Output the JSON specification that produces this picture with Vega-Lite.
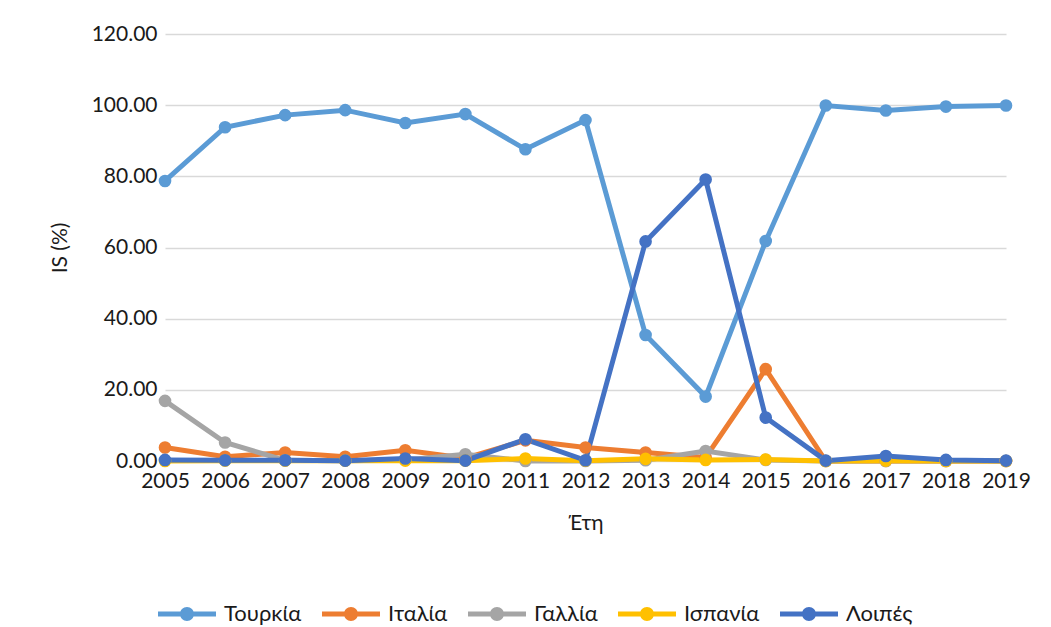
{
  "$schema": "https://vega.github.io/schema/vega-lite/v6.json",
  "autosize": "none",
  "width": 841,
  "height": 427,
  "padding": {"left": 165, "top": 34, "right": 45, "bottom": 166},
  "background": "white",
  "config": {
    "font": "Lato",
    "view": {"stroke": null},
    "axis": {"labelFont": "Lato", "titleFont": "Lato", "labelColor": "#1a1a1a", "titleColor": "#1a1a1a", "titleFontWeight": "normal"}
  },
  "data": {
    "values": [
      {"year": "2005", "country": "Τουρκία", "value": 78.7},
      {"year": "2006", "country": "Τουρκία", "value": 93.8},
      {"year": "2007", "country": "Τουρκία", "value": 97.2},
      {"year": "2008", "country": "Τουρκία", "value": 98.6},
      {"year": "2009", "country": "Τουρκία", "value": 95.0},
      {"year": "2010", "country": "Τουρκία", "value": 97.5},
      {"year": "2011", "country": "Τουρκία", "value": 87.6},
      {"year": "2012", "country": "Τουρκία", "value": 95.8},
      {"year": "2013", "country": "Τουρκία", "value": 35.4},
      {"year": "2014", "country": "Τουρκία", "value": 18.1},
      {"year": "2015", "country": "Τουρκία", "value": 61.8},
      {"year": "2016", "country": "Τουρκία", "value": 99.9},
      {"year": "2017", "country": "Τουρκία", "value": 98.5},
      {"year": "2018", "country": "Τουρκία", "value": 99.6},
      {"year": "2019", "country": "Τουρκία", "value": 99.9},
      {"year": "2005", "country": "Ιταλία", "value": 3.8},
      {"year": "2006", "country": "Ιταλία", "value": 1.2},
      {"year": "2007", "country": "Ιταλία", "value": 2.4},
      {"year": "2008", "country": "Ιταλία", "value": 1.2},
      {"year": "2009", "country": "Ιταλία", "value": 3.0},
      {"year": "2010", "country": "Ιταλία", "value": 0.8},
      {"year": "2011", "country": "Ιταλία", "value": 5.8},
      {"year": "2012", "country": "Ιταλία", "value": 3.8},
      {"year": "2013", "country": "Ιταλία", "value": 2.4},
      {"year": "2014", "country": "Ιταλία", "value": 1.0},
      {"year": "2015", "country": "Ιταλία", "value": 25.8},
      {"year": "2016", "country": "Ιταλία", "value": 0.0},
      {"year": "2017", "country": "Ιταλία", "value": 0.0},
      {"year": "2018", "country": "Ιταλία", "value": 0.0},
      {"year": "2019", "country": "Ιταλία", "value": 0.0},
      {"year": "2005", "country": "Γαλλία", "value": 16.9},
      {"year": "2006", "country": "Γαλλία", "value": 5.2},
      {"year": "2007", "country": "Γαλλία", "value": 0.2},
      {"year": "2008", "country": "Γαλλία", "value": 0.1},
      {"year": "2009", "country": "Γαλλία", "value": 0.3},
      {"year": "2010", "country": "Γαλλία", "value": 1.9},
      {"year": "2011", "country": "Γαλλία", "value": 0.0},
      {"year": "2012", "country": "Γαλλία", "value": 0.0},
      {"year": "2013", "country": "Γαλλία", "value": 0.2},
      {"year": "2014", "country": "Γαλλία", "value": 2.8},
      {"year": "2015", "country": "Γαλλία", "value": 0.3},
      {"year": "2016", "country": "Γαλλία", "value": 0.0},
      {"year": "2017", "country": "Γαλλία", "value": 0.0},
      {"year": "2018", "country": "Γαλλία", "value": 0.0},
      {"year": "2019", "country": "Γαλλία", "value": 0.0},
      {"year": "2005", "country": "Ισπανία", "value": 0.0},
      {"year": "2006", "country": "Ισπανία", "value": 0.1},
      {"year": "2007", "country": "Ισπανία", "value": 0.1},
      {"year": "2008", "country": "Ισπανία", "value": 0.1},
      {"year": "2009", "country": "Ισπανία", "value": 0.1},
      {"year": "2010", "country": "Ισπανία", "value": 0.1},
      {"year": "2011", "country": "Ισπανία", "value": 0.7},
      {"year": "2012", "country": "Ισπανία", "value": 0.1},
      {"year": "2013", "country": "Ισπανία", "value": 0.6},
      {"year": "2014", "country": "Ισπανία", "value": 0.3},
      {"year": "2015", "country": "Ισπανία", "value": 0.4},
      {"year": "2016", "country": "Ισπανία", "value": 0.0},
      {"year": "2017", "country": "Ισπανία", "value": 0.1},
      {"year": "2018", "country": "Ισπανία", "value": 0.0},
      {"year": "2019", "country": "Ισπανία", "value": 0.0},
      {"year": "2005", "country": "Λοιπές", "value": 0.3},
      {"year": "2006", "country": "Λοιπές", "value": 0.2},
      {"year": "2007", "country": "Λοιπές", "value": 0.2},
      {"year": "2008", "country": "Λοιπές", "value": 0.1},
      {"year": "2009", "country": "Λοιπές", "value": 0.7},
      {"year": "2010", "country": "Λοιπές", "value": 0.1},
      {"year": "2011", "country": "Λοιπές", "value": 6.1},
      {"year": "2012", "country": "Λοιπές", "value": 0.2},
      {"year": "2013", "country": "Λοιπές", "value": 61.7},
      {"year": "2014", "country": "Λοιπές", "value": 79.1},
      {"year": "2015", "country": "Λοιπές", "value": 12.2},
      {"year": "2016", "country": "Λοιπές", "value": 0.1},
      {"year": "2017", "country": "Λοιπές", "value": 1.4},
      {"year": "2018", "country": "Λοιπές", "value": 0.3},
      {"year": "2019", "country": "Λοιπές", "value": 0.1}
    ]
  },
  "mark": {"type": "line", "strokeWidth": 5, "point": {"filled": true, "size": 160, "opacity": 1}},
  "encoding": {
    "x": {
      "field": "year",
      "type": "ordinal",
      "scale": {"type": "point", "padding": 0},
      "axis": {
        "title": "Έτη",
        "labelAngle": 0,
        "labelFontSize": 21,
        "titleFontSize": 21,
        "domain": false,
        "ticks": false,
        "labelPadding": 9,
        "titlePadding": 21
      }
    },
    "y": {
      "field": "value",
      "type": "quantitative",
      "scale": {"domain": [0, 120]},
      "axis": {
        "title": "IS (%)",
        "values": [0, 20, 40, 60, 80, 100, 120],
        "format": ".2f",
        "labelFontSize": 21,
        "titleFontSize": 21,
        "domain": false,
        "ticks": false,
        "labelPadding": 8,
        "gridColor": "#d9d9d9",
        "gridWidth": 1.3,
        "titlePadding": 21
      }
    },
    "color": {
      "field": "country",
      "type": "nominal",
      "sort": null,
      "scale": {
        "domain": ["Τουρκία", "Ιταλία", "Γαλλία", "Ισπανία", "Λοιπές"],
        "range": ["#5B9BD5", "#ED7D31", "#A5A5A5", "#FFC000", "#4472C4"]
      },
      "legend": {
        "title": null,
        "orient": "none",
        "direction": "horizontal",
        "legendX": -7,
        "legendY": 551,
        "symbolType": "M-1,-0.086H1V0.086H-1Z M-0.241,0A0.241,0.241,0,1,1,0.241,0A0.241,0.241,0,1,1,-0.241,0Z",
        "symbolSize": 3364,
        "symbolStrokeWidth": 0,
        "labelFontSize": 22,
        "labelFont": "Lato",
        "labelColor": "#1a1a1a",
        "labelOffset": 8,
        "columnPadding": 20,
        "encode": {
          "symbols": {
            "update": {
              "fill": {"scale": "color", "field": "value"},
              "strokeWidth": {"value": 0},
              "opacity": {"value": 1}
            }
          }
        }
      }
    }
  }
}
